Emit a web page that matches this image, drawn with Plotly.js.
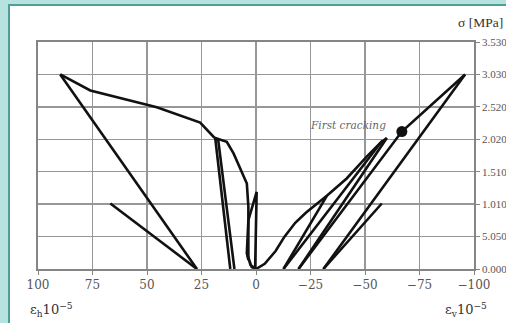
<!DOCTYPE html>
<html>
<head>
<meta charset="utf-8">
<script src="https://cdn.plot.ly/plotly-3.0.1.min.js"></script>
<style>
  html, body { margin: 0; padding: 0; width: 506px; height: 323px; overflow: hidden; background: #b6e3df; }
  #frame { position: absolute; left: 8px; top: 4px; right: 0; bottom: 0; background: #ffffff;
           border-left: 2px solid #4f9e98; border-top: 2px solid #4f9e98; }
  #chart { position: absolute; left: 0; top: 0; width: 506px; height: 323px; }
</style>
</head>
<body>
<div id="frame"></div>
<div id="chart"></div>
<script>
// ---- data (strain in 10^-5, stress in MPa) ----
// horizontal strain branch (left, positive eps_h)
const hCycle1X = [0.4, -0.3, 3.5, 4.2];
const hCycle1Y = [0.0, 1.20, 0.76, 0.25];
const hBlobX = [0.0, 2.5, 4.2, 2.0, 0.0];
const hBlobY = [0.0, 0.06, 0.25, 0.03, 0.0];
const hCycle2LoadX = [4.2, 3.5, 3.5, 4.2, 10.3, 13.4, 18.7];
const hCycle2LoadY = [0.25, 0.14, 0.97, 1.33, 1.80, 1.98, 2.04];
const hCycle2UnloadX = [18.7, 11.8];
const hCycle2UnloadY = [2.04, 0.0];
const hCycle3LoadX = [9.9, 17.3, 19.5, 25.6, 45.5, 76.0, 89.8];
const hCycle3LoadY = [0.0, 2.00, 2.06, 2.28, 2.52, 2.78, 3.03];
const hCycle3UnloadX = [89.8, 27.1];
const hCycle3UnloadY = [3.03, 0.0];
const hCycle4X = [27.1, 66.8];
const hCycle4Y = [0.0, 1.02];

// vertical strain branch (right, negative eps_v)
const vCurveX = [0, -4, -9, -13, -18, -23, -32.5, -41.6, -50.8, -56.9, -60.0];
const vCurveY = [0, 0.08, 0.28, 0.50, 0.72, 0.88, 1.14, 1.41, 1.75, 1.96, 2.04];
const vCycle1UnloadX = [-32.5, -12.6];
const vCycle1UnloadY = [1.14, 0.0];
const vCycle2LoadX = [-12.6, -58.0];
const vCycle2LoadY = [0.0, 2.00];
const vCycle2UnloadX = [-60.0, -19.5];
const vCycle2UnloadY = [2.04, 0.0];
const vCycle3LoadX = [-19.5, -66.9, -95.9];
const vCycle3LoadY = [0.0, 2.14, 3.03];
const vCycle3UnloadX = [-95.9, -30.9];
const vCycle3UnloadY = [3.03, 0.0];
const vCycle4X = [-30.9, -57.7];
const vCycle4Y = [0.0, 1.02];

const crackX = [-66.9];
const crackY = [2.14];

const xTicks = [100, 75, 50, 25, 0, -25, -50, -75, -100];
const yTickVals = [0, 0.505, 1.01, 1.515, 2.02, 2.525, 3.03, 3.535];
const yTickText = ['0.000', '5.050', '1.010', '1.510', '2.020', '2.520', '3.030', '3.530'];

// ---- traces ----
const pairs = [
  [hCycle1X, hCycle1Y], [hBlobX, hBlobY], [hCycle2LoadX, hCycle2LoadY],
  [hCycle2UnloadX, hCycle2UnloadY], [hCycle3LoadX, hCycle3LoadY],
  [hCycle3UnloadX, hCycle3UnloadY], [hCycle4X, hCycle4Y],
  [vCurveX, vCurveY], [vCycle1UnloadX, vCycle1UnloadY], [vCycle2LoadX, vCycle2LoadY],
  [vCycle2UnloadX, vCycle2UnloadY], [vCycle3LoadX, vCycle3LoadY],
  [vCycle3UnloadX, vCycle3UnloadY], [vCycle4X, vCycle4Y]
];
const traces = pairs.map(p => ({
  x: p[0], y: p[1], type: 'scatter', mode: 'lines',
  line: { color: '#111', width: 2.6 }, hoverinfo: 'skip', cliponaxis: false
}));
traces.push({
  x: crackX, y: crackY, type: 'scatter', mode: 'markers',
  marker: { color: '#111', size: 11 }, hoverinfo: 'skip', cliponaxis: false
});

const fontSerif = 'DejaVu Serif, Liberation Serif, serif';
const fontTimes = 'Liberation Serif, DejaVu Serif, serif';

const layout = {
  width: 506, height: 323,
  margin: { l: 38, r: 32, t: 42, b: 54 },
  paper_bgcolor: 'rgba(0,0,0,0)',
  plot_bgcolor: 'rgba(0,0,0,0)',
  showlegend: false,
  xaxis: {
    range: [100, -100], tickvals: xTicks,
    showgrid: true, gridcolor: '#979797', gridwidth: 1.5,
    zeroline: false, showline: true, linecolor: '#858585', linewidth: 1.7, mirror: true,
    ticks: 'outside', ticklen: 4, tickcolor: '#858585',
    tickfont: { family: fontSerif, size: 12, color: '#555' }
  },
  yaxis: {
    range: [0, 3.535], side: 'right', tickvals: yTickVals, ticktext: yTickText,
    showgrid: true, gridcolor: '#979797', gridwidth: 1.5,
    zeroline: false, showline: true, linecolor: '#858585', linewidth: 1.7, mirror: true,
    ticks: 'outside', ticklen: 4, tickcolor: '#858585',
    tickfont: { family: fontTimes, size: 11, color: '#555' }
  },
  annotations: [
    { text: 'σ [MPa]', xref: 'paper', yref: 'paper', x: 0.9587, y: 1.088,
      xanchor: 'left', yanchor: 'middle', showarrow: false,
      font: { family: fontTimes, size: 13.5, color: '#333' } },
    { text: 'ε<sub>h</sub>10<sup>−5</sup>', xref: 'paper', yref: 'paper', x: -0.0229, y: -0.181,
      xanchor: 'left', yanchor: 'middle', showarrow: false,
      font: { family: fontSerif, size: 13, color: '#333' } },
    { text: 'ε<sub>v</sub>10<sup>−5</sup>', xref: 'paper', yref: 'paper', x: 0.929, y: -0.181,
      xanchor: 'left', yanchor: 'middle', showarrow: false,
      font: { family: fontSerif, size: 13, color: '#333' } },
    { text: '<i>First cracking</i>', xref: 'x', yref: 'y', x: -60.6, y: 2.24,
      xanchor: 'right', yanchor: 'middle', showarrow: false,
      font: { family: fontSerif, size: 10.5, color: '#666' } }
  ]
};

Plotly.newPlot('chart', traces, layout, { staticPlot: true, displayModeBar: false });
</script>
</body>
</html>
